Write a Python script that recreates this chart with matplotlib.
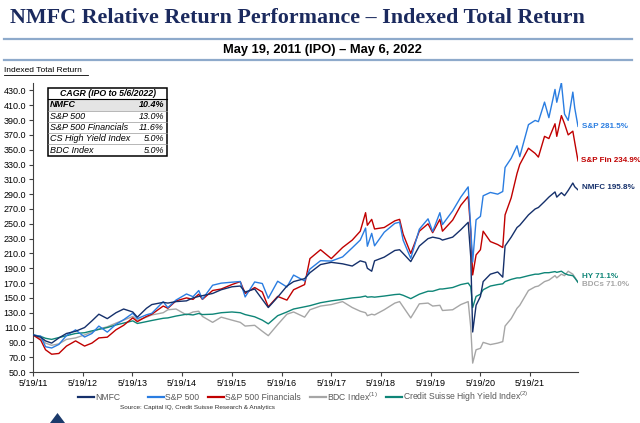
import matplotlib
matplotlib.use("Agg")
import matplotlib.pyplot as plt
import pandas as pd
from matplotlib.lines import Line2D
from matplotlib.patches import Rectangle, Polygon
from matplotlib.transforms import Affine2D

plt.rcParams['font.family'] = ['Liberation Sans', 'DejaVu Sans']
plt.rcParams['mathtext.fontset'] = 'custom'
plt.rcParams['mathtext.rm'] = 'Liberation Sans'

# data (index = 100 at IPO, 5/19/2011)
dates = [
    "2011-05-19", "2011-07-15", "2011-08-19", "2011-10-03", "2011-11-25",
    "2012-01-20", "2012-03-27", "2012-06-01", "2012-07-25", "2012-09-14", "2012-11-15",
    "2013-01-18", "2013-03-15", "2013-05-21", "2013-06-24", "2013-08-30", "2013-10-08", "2013-12-31",
    "2014-02-03", "2014-04-04", "2014-06-20", "2014-08-07", "2014-09-18", "2014-10-15", "2014-12-29",
    "2015-03-02", "2015-05-20", "2015-07-20", "2015-08-25", "2015-11-03", "2015-12-29",
    "2016-02-11", "2016-04-20", "2016-06-27", "2016-08-15", "2016-11-04", "2016-12-13",
    "2017-03-01", "2017-05-19", "2017-08-10", "2017-10-20", "2017-12-18",
    "2018-01-26", "2018-02-08", "2018-03-12", "2018-04-02", "2018-06-12", "2018-08-29",
    "2018-10-03", "2018-10-29", "2018-12-24",
    "2019-02-25", "2019-04-30", "2019-06-03", "2019-07-26", "2019-08-14", "2019-10-28", "2019-12-27",
    "2020-02-19", "2020-03-09", "2020-03-23", "2020-04-17", "2020-05-19", "2020-06-08",
    "2020-07-31", "2020-09-23", "2020-10-30", "2020-11-16", "2020-12-31",
    "2021-02-12", "2021-03-04", "2021-05-07", "2021-06-25", "2021-07-19", "2021-09-02",
    "2021-10-04", "2021-11-18", "2021-12-01",
    "2022-01-04", "2022-01-27", "2022-02-23", "2022-03-29", "2022-04-12", "2022-05-06",
]

nmfc = [100, 97, 92, 89, 96,
        102, 105, 110, 119, 128, 122,
        130, 135, 131, 124, 136, 141, 144,
        143, 145, 146, 150, 152, 153, 156,
        161, 165, 166, 158, 162, 148,
        137, 151, 166, 172, 176, 184,
        195, 198, 196, 193, 200,
        198, 190, 186, 200, 205, 214, 215, 210, 199,
        220, 230, 232, 230, 228, 232, 242,
        252, 205, 104, 140, 152, 172, 182, 185, 178, 220, 232,
        245, 248, 262, 270, 272, 280, 286, 293, 286,
        292, 288, 295, 305, 300, 295.8]

sp500 = [100, 98.3, 84.1, 82.4, 87.2,
         99.2, 106.9, 97.2, 102.0, 112.0, 103.8,
         114.4, 120.5, 129.3, 122.0, 127.2, 129.2, 144.9,
         136.8, 147.1, 155.3, 151.6, 159.9, 148.3, 167.1,
         169.9, 171.2, 172.1, 151.3, 171.5, 169.4,
         149.5, 172.5, 164.7, 180.8, 172.9, 188.9,
         200.2, 199.7, 205.3, 217.6, 228.1,
         244.3, 219.7, 237.1, 220.3, 238.6, 250.6, 252.1, 227.9, 203.4,
         242.7, 256.7, 239.5, 265.0, 248.9, 267.5, 286.1,
         299.8, 243.4, 198.4, 255.4, 260.0, 287.8, 292.3, 290.0, 293.6, 326.0, 338.4,
         355.3, 340.6, 383.8, 389.5, 387.8, 414.2, 393.2, 431.3, 414.0,
         440.5, 398.1, 389.5, 427.7, 406.3, 381.5]

sp_fin = [100, 93, 80, 74, 75,
          85, 92, 85, 89, 96, 97,
          107, 113, 123, 118, 125, 128, 139,
          136, 146, 150, 148, 155, 148, 160,
          162, 168, 172, 156, 164, 158,
          138, 152, 147, 161, 168, 203,
          215, 203, 218, 228, 240,
          265, 248, 256, 243, 245, 254, 256, 236, 210,
          240, 250, 238, 256, 240, 255, 275,
          287, 240, 181, 208, 215, 240, 226, 222, 218, 262, 285,
          318, 330, 352, 345, 340, 368, 365, 385, 368,
          396, 385, 370, 375, 360, 334.9]

bdc = [100, 95, 89, 86, 88,
       94, 96, 100, 104, 108, 111,
       116, 120, 125, 120, 124, 127, 130,
       134, 135, 127, 131, 132, 125, 117,
       124, 120, 117, 112, 113, 105,
       99, 114, 128, 131, 124, 134,
       139, 141, 145, 137, 132,
       130, 126, 128, 127, 134, 143, 145, 138, 123,
       142, 143, 139, 140, 133, 134, 141,
       145, 110, 62, 80, 82, 90, 87, 89, 91, 112, 122,
       136, 140, 160, 165, 166, 172, 174, 180, 177,
       182, 180, 186, 182, 178, 171.0]

cs_hy = [100, 98, 95.5, 94, 96.5,
         99, 102, 103, 105.5, 107.5, 110,
         113.5, 116, 119, 115.5, 118, 119.5, 122.5,
         123, 125.5, 128, 127, 129, 127.5, 128,
         130, 131, 130, 127.5, 124.5, 120,
         115, 126, 131, 135, 138, 139.5,
         143.5, 146, 148, 150, 151,
         152.5, 151, 151.5, 151, 152.5, 154.5, 155, 153.5, 149,
         155, 159, 159, 162, 162, 164, 168,
         170, 165, 137, 152, 155, 161, 166, 168, 169, 172, 175,
         177, 177, 180, 182, 182, 184, 184, 185.5, 184.5,
         186, 183, 181, 180, 177, 171.1]

cagr_names = ["NMFC", "S&P 500", "S&P 500 Financials", "CS High Yield Index", "BDC Index"]
cagr_values = ["10.4%", "13.0%", "11.6%", "5.0%", "5.0%"]

end_labels = ["NMFC 195.8%", "S&P 281.5%", "S&P Fin 234.9%", "BDCs 71.0%", "HY 71.1%"]
legend_labels = ["NMFC", "S&P 500", "S&P 500 Financials",
                 r"BDC Index$^{\rm (1)}$", r"Credit Suisse High Yield Index$^{\rm (2)}$"]

# -----------------------------------------------------------
ipo = pd.Timestamp("2011-05-19")
t = (pd.to_datetime(dates) - ipo).days / 365.25
t_end = t[-1]

navy = '#15306b'
blue = '#2a7de1'
red = '#c00000'
gray = '#a6a6a6'
teal = '#0e8577'

series = [nmfc, sp500, sp_fin, bdc, cs_hy]
colors = [navy, blue, red, gray, teal]
zorders = [6, 5, 4, 2, 3]

W, H = 640, 423
fig = plt.figure(figsize=(W / 100, H / 100), dpi=100)
pix = Affine2D().scale(1 / W, -1 / H).translate(0, 1) + fig.transFigure

ax = fig.add_axes([33 / W, 1 - 372 / H, (578 - 33) / W, (372 - 83) / H])

for vals, c, z in zip(series, colors, zorders):
    ax.plot(t, vals, color=c, lw=1.0, zorder=z)

ax.set_xlim(0, t_end)
ax.set_ylim(50, 440)
ax.set_yticks(range(50, 431, 20))
ax.set_yticklabels([f"{v:.1f}" for v in range(50, 431, 20)])
years = range(2011, 2022)
ax.set_xticks([(pd.Timestamp(y, 5, 19) - ipo).days / 365.25 for y in years])
ax.set_xticklabels([f"5/19/{y % 100}" for y in years])
ax.tick_params(direction='out', length=3, width=0.8, labelsize=6.5, pad=2, colors='#404040')
ax.tick_params(labelcolor='black')
for s in ['top', 'right']:
    ax.spines[s].set_visible(False)
for s in ['left', 'bottom']:
    ax.spines[s].set_color('#404040')
    ax.spines[s].set_linewidth(0.8)

# labels at the right end of the lines
offsets = [(3, 2), (3, 0), (2, 0), (3, -1.2), (3, 3.8)]
for vals, c, lab, off in zip(series, colors, end_labels, offsets):
    ax.annotate(lab, xy=(t_end, vals[-1]), xytext=off, textcoords='offset points',
                color=c, fontsize=5.8, fontweight='bold', va='center', ha='left',
                annotation_clip=False)

# title block
fig.text(10, 18, "NMFC Relative Return Performance \u2013 Indexed Total Return",
         transform=pix, family='Liberation Serif', fontweight='bold', fontsize=15.8,
         color='#1b2a5e', va='center', ha='left')
for yy in (39, 60):
    fig.add_artist(Line2D([4, 632], [yy, yy], transform=pix, color='#8eaacb', lw=1.6))
fig.text(322, 49.5, "May 19, 2011 (IPO) \u2013 May 6, 2022", transform=pix,
         fontweight='bold', fontsize=9.3, ha='center', va='center')
fig.text(4, 71, "Indexed Total Return", transform=pix, fontsize=6, ha='left', va='center')
fig.add_artist(Line2D([4, 88], [75.5, 75.5], transform=pix, color='black', lw=0.6))

# CAGR table
tx0, tx1, ty0, rh = 48, 167, 88, 11.3
fig.add_artist(Rectangle((tx0, ty0 + rh), tx1 - tx0, rh, transform=pix,
                         facecolor='#e4e4e4', edgecolor='none'))
fig.text((tx0 + tx1) / 2, ty0 + rh / 2, "CAGR (IPO to 5/6/2022)", transform=pix,
         fontsize=6.3, fontweight='bold', style='italic', ha='center', va='center')
for i, (name, val) in enumerate(zip(cagr_names, cagr_values)):
    yc = ty0 + rh * (i + 1.5)
    wt = 'bold' if i == 0 else 'normal'
    fig.text(tx0 + 2, yc, name, transform=pix, fontsize=6.5, style='italic',
             fontweight=wt, ha='left', va='center')
    fig.text(tx1 - 3, yc, val, transform=pix, fontsize=6.5, style='italic',
             fontweight=wt, ha='right', va='center')
    fig.add_artist(Line2D([tx0, tx1], [ty0 + rh * (i + 1)] * 2, transform=pix,
                          color='#9a9a9a' if i > 0 else 'black', lw=0.5 if i > 0 else 0.8))
fig.add_artist(Rectangle((tx0, ty0), tx1 - tx0, rh * 6, transform=pix,
                         facecolor='none', edgecolor='black', lw=1.1))

# legend
leg_x = [78, 148, 208, 310, 386]
for x0, c, lab in zip(leg_x, colors, legend_labels):
    fig.add_artist(Line2D([x0, x0 + 16], [397, 397], transform=pix, color=c, lw=1.6))
    fig.text(x0 + 17, 397, lab, transform=pix, fontsize=6.2, color='#595959',
             ha='left', va='center')

fig.text(120, 407, "Source: Capital IQ, Credit Suisse Research & Analytics", transform=pix,
         fontsize=4.6, color='#303030', ha='left', va='center')
fig.add_artist(Polygon([[50, 423], [57.5, 413], [65, 423]], closed=True, transform=pix,
                       facecolor='#1b3a6b', edgecolor='none'))

fig.savefig("out.png", dpi=100)
